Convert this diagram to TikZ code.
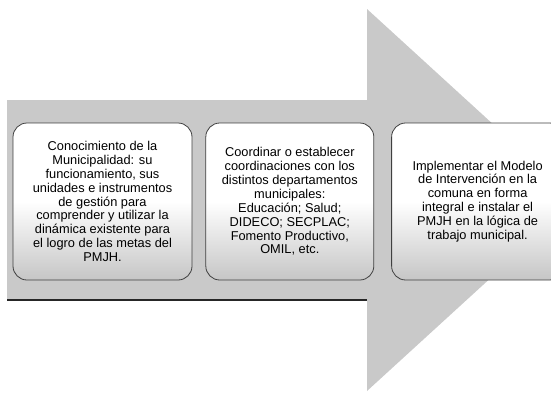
\documentclass[tikz,border=0pt]{standalone}
\usepackage{fontspec}
\setmainfont{Liberation Sans}
\usetikzlibrary{positioning}

\begin{document}
\begin{tikzpicture}[x=1pt,y=-1pt,
    paso/.style={draw=black!75,line width=0.8pt,rounded corners=14pt,
        top color=white,bottom color=gray!45,middle color=white,
        minimum height=157pt,inner sep=0pt,align=center,
        font=\fontsize{12.8}{13.9}\selectfont}]
    \useasboundingbox (0,0) rectangle (551,392);
    \begin{scope}
    \clip (0,0) rectangle (551,392);
    \coordinate (cola) at (7,300);
    \coordinate (codo) at (367,300);
    \fill[gray!42] (7,100) -- (367,100) -- (367,9) -- (576,200)
        -- (367,391) -- (codo) -- (cola) -- cycle;
    \draw[black!85,line width=1.2pt] (cola) -- (codo);
    \node[paso,minimum width=179pt] (conocer) at (102.5,201.5)
        {Conocimiento de la\\ Municipalidad: su\\ funcionamiento, sus\\
         unidades e instrumentos\\ de gestión para\\ comprender y utilizar la\\
         dinámica existente para\\ el logro de las metas del\\ PMJH.};
    \node[paso,minimum width=168pt,right=13pt of conocer] (coordinar)
        {Coordinar o establecer\\ coordinaciones con los\\ distintos departamentos\\
         municipales:\\ Educación; Salud;\\ DIDECO; SECPLAC;\\
         Fomento Productivo,\\ OMIL, etc.};
    \node[paso,minimum width=172pt,right=17pt of coordinar] (implementar)
        {Implementar el Modelo\\ de Intervención en la\\ comuna en forma\\
         integral e instalar el\\ PMJH en la lógica de\\ trabajo municipal.};
    \end{scope}
\end{tikzpicture}
\end{document}
